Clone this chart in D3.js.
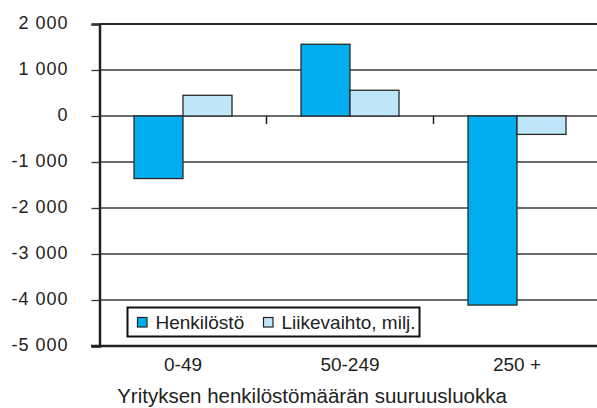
<!DOCTYPE html>
<html>
<head>
<meta charset="utf-8">
<script src="https://cdn.jsdelivr.net/npm/d3@7"></script>
<style>
  body { margin: 0; background: #fff; }
  text { font-family: "Liberation Sans", Arial, sans-serif; fill: #222; }
</style>
</head>
<body>
<div id="chart"></div>
<script>
// data
var categories = ["0-49", "50-249", "250 +"];
var seriesNames = ["Henkilöstö", "Liikevaihto, milj."];
var henkilosto = [-1360, 1560, -4110];
var liikevaihto = [450, 560, -400];
var yTicks = [2000, 1000, 0, -1000, -2000, -3000, -4000, -5000];
var xTitle = "Yrityksen henkilöstömäärän suuruusluokka";

var svgWidth = 597;
var svgHeight = 408;
var colors = ["#00aeef", "#bde6f8"];

var svg = d3.select("#chart")
  .append("svg")
  .attr("width", svgWidth)
  .attr("height", svgHeight);

var plotLeft = 99.5, plotRight = 600.5, plotTop = 24, plotBottom = 346;

var xScale = d3.scaleBand()
  .domain(categories)
  .range([plotLeft, plotRight]);

var yScale = d3.scaleLinear()
  .domain([-5000, 2000])
  .range([plotBottom, plotTop]);

// thousands separated by a space, plain hyphen for minus
var fiLocale = d3.formatLocale({
  decimal: ",",
  thousands: " ",
  grouping: [3],
  currency: ["", " €"],
  minus: "-"
});
var fmt = fiLocale.format(",");

// horizontal gridlines
svg.append("g")
  .selectAll("line")
  .data(yTicks)
  .enter()
  .append("line")
  .attr("x1", plotLeft)
  .attr("x2", svgWidth)
  .attr("y1", d => yScale(d))
  .attr("y2", d => yScale(d))
  .attr("stroke", d => d === 2000 ? "#2a2a2a" : "#3a3a3a")
  .attr("stroke-width", d => d === 2000 ? 2.2 : 1.3);

// y axis
var leftAxis = d3.axisLeft(yScale)
  .tickValues(yTicks)
  .tickSize(8)
  .tickPadding(23)
  .tickFormat(fmt);

var yAxis = svg.append("g")
  .attr("transform", `translate(${plotLeft}, 0)`)
  .call(leftAxis);
yAxis.select(".domain").attr("stroke", "#222").attr("stroke-width", 2.5);
yAxis.selectAll(".tick line").attr("stroke", "#333").attr("stroke-width", 1.3);
yAxis.selectAll(".tick text")
  .attr("font-size", "18px")
  .attr("letter-spacing", "1px")
  .attr("dy", "0.25em")
  .attr("font-family", "Liberation Sans, Arial, sans-serif")
  .attr("fill", "#222");

// bars
var barW = 49;
var groups = categories.map((c, i) => ({cat: c, vals: [henkilosto[i], liikevaihto[i]]}));

var barG = svg.append("g");
groups.forEach(function(g) {
  var cx = xScale(g.cat) + xScale.bandwidth() / 2;
  barG.selectAll(null)
    .data(g.vals)
    .enter()
    .append("rect")
    .attr("x", (d, j) => cx - barW + j * barW)
    .attr("y", d => yScale(Math.max(0, d)))
    .attr("width", barW)
    .attr("height", d => Math.abs(yScale(d) - yScale(0)))
    .attr("fill", (d, j) => colors[j])
    .attr("stroke", "#2a2a2a")
    .attr("stroke-width", 1.3);
});

// category ticks on the zero line
svg.append("g")
  .attr("transform", `translate(0, ${yScale(0)})`)
  .selectAll("line")
  .data(categories.slice(1))
  .enter()
  .append("line")
  .attr("x1", d => xScale(d))
  .attr("x2", d => xScale(d))
  .attr("y1", 0)
  .attr("y2", 8)
  .attr("stroke", "#222")
  .attr("stroke-width", 1.5);

// bottom line
svg.append("line")
  .attr("x1", 91)
  .attr("x2", svgWidth)
  .attr("y1", plotBottom)
  .attr("y2", plotBottom)
  .attr("stroke", "#222")
  .attr("stroke-width", 2.5);

// category labels
svg.append("g")
  .selectAll("text")
  .data(categories)
  .enter()
  .append("text")
  .attr("x", d => xScale(d) + xScale.bandwidth() / 2)
  .attr("y", 371)
  .attr("text-anchor", "middle")
  .attr("font-size", "19px")
  .text(d => d);

// axis title
svg.append("text")
  .attr("x", 312)
  .attr("y", 403)
  .attr("text-anchor", "middle")
  .attr("font-size", "20.5px")
  .text(xTitle);

// legend
var legend = svg.append("g");
legend.append("rect")
  .attr("x", 127.5)
  .attr("y", 307.5)
  .attr("width", 292)
  .attr("height", 29)
  .attr("fill", "#fff")
  .attr("stroke", "#111")
  .attr("stroke-width", 2);

var legendX = [137.5, 263.5];
seriesNames.forEach(function(name, i) {
  legend.append("rect")
    .attr("x", legendX[i])
    .attr("y", 317.5)
    .attr("width", 9.5)
    .attr("height", 9.5)
    .attr("fill", colors[i])
    .attr("stroke", "#222")
    .attr("stroke-width", 1.2);
  legend.append("text")
    .attr("x", legendX[i] + 18)
    .attr("y", 329)
    .attr("font-size", "19px")
    .text(name);
});
</script>
</body>
</html>
